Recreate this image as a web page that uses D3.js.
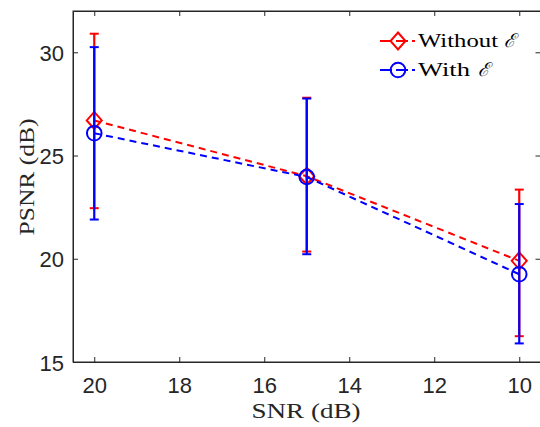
<!DOCTYPE html>
<html>
<head>
<meta charset="utf-8">
<script src="https://cdn.jsdelivr.net/npm/d3@7"></script>
<style>
  html, body { margin: 0; padding: 0; background: #fff; }
  svg { display: block; }
</style>
</head>
<body>
<svg id="chart" width="540" height="427"></svg>
<script>
// ---- data ----
const snr = [20, 15, 10];
const withoutMean  = [26.7, 24.0, 19.9];
const withoutUpper = [30.9, 27.8, 23.35];
const withoutLower = [22.45, 20.35, 16.25];
const withMean  = [26.08, 23.96, 19.25];
const withUpper = [30.25, 27.76, 22.65];
const withLower = [21.9, 20.22, 15.9];
const xTicks = [20, 18, 16, 14, 12, 10];
const yTicks = [15, 20, 25, 30];
const seriesNames = ["Without", "With"];

// ---- layout ----
const svg = d3.select("#chart");
const L = 73, R = 540.5, T = 11, B = 362;
const x = d3.scaleLinear().domain([20.5, 9.5]).range([L, R]);
const y = d3.scaleLinear().domain([15, 32]).range([B, T]);
const axisColor = "#262626";

// box
svg.append("rect").attr("x", L).attr("y", T).attr("width", R - L).attr("height", B - T)
  .attr("fill", "none").attr("stroke", axisColor).attr("stroke-width", 1);

const tickLen = 5;
const xAxisB = svg.append("g").attr("transform", `translate(0,${B})`)
  .call(d3.axisBottom(x).tickValues(xTicks).tickSizeInner(-tickLen).tickSizeOuter(0).tickPadding(0).tickFormat(d3.format("d")));
const xAxisT = svg.append("g").attr("transform", `translate(0,${T})`)
  .call(d3.axisTop(x).tickValues(xTicks).tickSizeInner(-tickLen).tickSizeOuter(0).tickFormat(""));
const yAxisL = svg.append("g").attr("transform", `translate(${L},0)`)
  .call(d3.axisLeft(y).tickValues(yTicks).tickSizeInner(-tickLen).tickSizeOuter(0).tickFormat(d3.format("d")));
const yAxisR = svg.append("g").attr("transform", `translate(${R},0)`)
  .call(d3.axisRight(y).tickValues(yTicks).tickSizeInner(-tickLen).tickSizeOuter(0).tickFormat(""));

[xAxisB, xAxisT, yAxisL, yAxisR].forEach(g => {
  g.select(".domain").attr("stroke", axisColor).attr("stroke-width", 1);
  g.selectAll(".tick line").attr("stroke", axisColor).attr("stroke-width", 1);
});
xAxisB.selectAll(".tick text")
  .attr("font-family", "Liberation Sans, Arial, sans-serif").attr("font-size", 22)
  .attr("fill", axisColor).attr("y", 31).attr("dy", 0);
yAxisL.selectAll(".tick text")
  .attr("font-family", "Liberation Sans, Arial, sans-serif").attr("font-size", 22)
  .attr("fill", axisColor).attr("x", -9).attr("dy", 8);

// axis labels
svg.append("text").attr("x", 306).attr("y", 418).attr("text-anchor", "middle")
  .attr("font-family", "Liberation Serif, Times New Roman, serif").attr("font-size", 22)
  .attr("fill", axisColor).attr("textLength", 109).attr("lengthAdjust", "spacingAndGlyphs")
  .text("SNR (dB)");
svg.append("text").attr("transform", "translate(34,177) rotate(-90)").attr("text-anchor", "middle")
  .attr("font-family", "Liberation Serif, Times New Roman, serif").attr("font-size", 22)
  .attr("fill", axisColor).attr("textLength", 117).attr("lengthAdjust", "spacingAndGlyphs")
  .text("PSNR (dB)");

// ---- series ----
const series = [
  { name: seriesNames[0], color: "#ff0000", mean: withoutMean, lo: withoutLower, hi: withoutUpper, marker: "diamond" },
  { name: seriesNames[1], color: "#0000ff", mean: withMean, lo: withLower, hi: withUpper, marker: "circle" }
];

const line = d3.line().x(d => x(d[0])).y(d => y(d[1]));
const capW = 4.5;

function drawMarker(g, type, cx, cy, color) {
  if (type === "diamond") {
    g.append("path")
      .attr("d", `M${cx},${cy - 8.5}L${cx + 7.5},${cy}L${cx},${cy + 8.5}L${cx - 7.5},${cy}Z`)
      .attr("fill", "none").attr("stroke", color).attr("stroke-width", 2);
  } else {
    g.append("circle").attr("cx", cx).attr("cy", cy).attr("r", 7.3)
      .attr("fill", "none").attr("stroke", color).attr("stroke-width", 2);
  }
}

series.forEach(s => {
  const g = svg.append("g");
  const pts = snr.map((v, i) => [v, s.mean[i]]);
  g.append("path").attr("d", line(pts)).attr("fill", "none")
    .attr("stroke", s.color).attr("stroke-width", 2).attr("stroke-dasharray", "7,5");
  snr.forEach((v, i) => {
    const cx = x(v);
    g.append("line").attr("x1", cx).attr("x2", cx).attr("y1", y(s.lo[i])).attr("y2", y(s.hi[i]))
      .attr("stroke", s.color).attr("stroke-width", 2.2);
    [s.lo[i], s.hi[i]].forEach(e => {
      g.append("line").attr("x1", cx - capW).attr("x2", cx + capW).attr("y1", y(e)).attr("y2", y(e))
        .attr("stroke", s.color).attr("stroke-width", 2);
    });
    drawMarker(g, s.marker, cx, y(s.mean[i]), s.color);
  });
});

// ---- legend ----
const legRows = [
  { s: series[0], cy: 41, base: 47, wordW: 80, ePos: 504 },
  { s: series[1], cy: 70, base: 76, wordW: 52, ePos: 478 }
];
legRows.forEach(r => {
  const g = svg.append("g");
  g.append("line").attr("x1", 380).attr("x2", 415).attr("y1", r.cy).attr("y2", r.cy)
    .attr("stroke", r.s.color).attr("stroke-width", 2).attr("stroke-dasharray", "12,4");
  drawMarker(g, r.s.marker, 398, r.cy, r.s.color);
  g.append("text").attr("x", 418).attr("y", r.base)
    .attr("font-family", "Liberation Serif, Times New Roman, serif").attr("font-size", 19)
    .attr("fill", "#000").attr("textLength", r.wordW).attr("lengthAdjust", "spacingAndGlyphs")
    .text(r.s.name);
  g.append("text").attr("x", r.ePos).attr("y", r.base)
    .attr("font-family", "DejaVu Serif, Liberation Serif, serif").attr("font-size", 19)
    .attr("font-style", "italic").attr("fill", "#000")
    .text("ℰ");
});
</script>
</body>
</html>
